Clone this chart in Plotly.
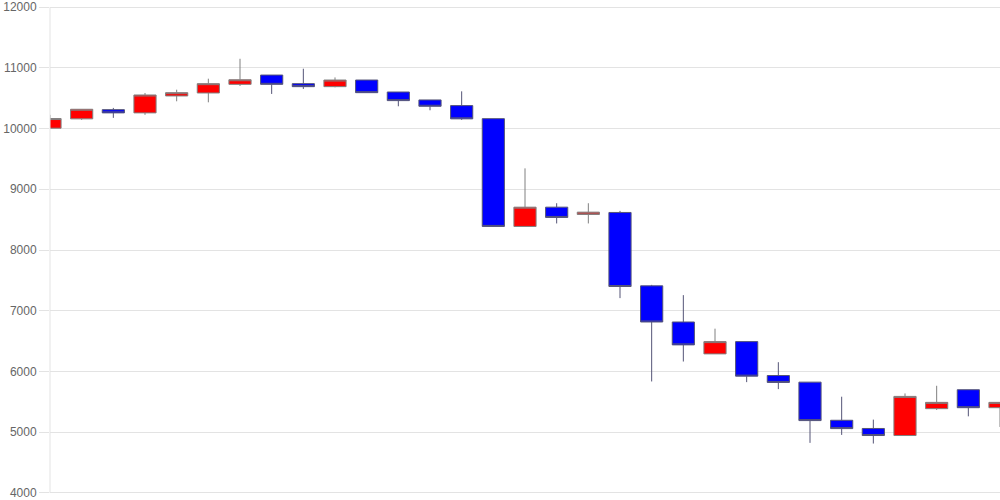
import plotly.graph_objects as go

# daily OHLC (31 sessions)
days = list(range(31))
opens = [10005, 10159, 10310, 10257, 10536, 10585, 10727, 10880, 10738, 10689,
         10798, 10601, 10470, 10377, 10162, 8388, 8705, 8585, 8618, 7410,
         6815, 6290, 6492, 5934, 5825, 5197, 5062, 4946, 5388, 5700, 5404]
highs = [10225, 10320, 10339, 10585, 10639, 10820, 11148, 10880, 10984, 10841,
         10798, 10601, 10470, 10612, 10162, 9344, 8770, 8770, 8644, 7426,
         7257, 6705, 6492, 6153, 5825, 5585, 5208, 5639, 5765, 5700, 5492]
lows = [10000, 10142, 10175, 10225, 10448, 10431, 10700, 10569, 10651, 10678,
        10590, 10366, 10300, 10142, 8385, 8388, 8437, 8437, 7208, 5836,
        6164, 6290, 5825, 5710, 4825, 4956, 4814, 4946, 5366, 5262, 5087]
closes = [10164, 10317, 10257, 10552, 10590, 10738, 10803, 10727, 10689, 10798,
          10590, 10459, 10366, 10159, 8388, 8705, 8536, 8623, 7399, 6815,
          6438, 6492, 5923, 5820, 5192, 5060, 4946, 5590, 5492, 5404, 5492]

y_ticks = [4000, 5000, 6000, 7000, 8000, 9000, 10000, 11000, 12000]

fig = go.Figure(go.Candlestick(
    x=days, open=opens, high=highs, low=lows, close=closes,
    increasing=dict(fillcolor='#ff0000', line=dict(color='#808080', width=1)),
    decreasing=dict(fillcolor='#0000ff', line=dict(color='#555577', width=1)),
    whiskerwidth=0,
))

fig.update_layout(
    width=1000, height=500,
    margin=dict(l=50, r=0, t=2, b=2),
    paper_bgcolor='white', plot_bgcolor='white',
    showlegend=False,
    boxgap=0.3, boxgroupgap=0,
    font=dict(family='Liberation Sans, Arial', size=12, color='#666666'),
)
fig.update_xaxes(range=[0, 30], showticklabels=False, showgrid=False,
                 zeroline=False, rangeslider_visible=False)
# padding so the 4000 / 12000 grid lines are not culled at the edges
fig.update_yaxes(range=[3934, 12066], tickvals=y_ticks, tickformat='d',
                 showgrid=True, gridcolor='#e3e3e3', zeroline=False,
                 showline=False, ticks='outside',
                 ticklen=10, tickcolor='#e3e3e3', ticklabeloverflow='allow')
# left axis line drawn only between 4000 and 12000 like the reference
fig.add_shape(type='line', xref='paper', yref='y', x0=0, x1=0,
              y0=y_ticks[0], y1=y_ticks[-1],
              line=dict(color='#e3e3e3', width=1))

# drop the default 8px body margin so the figure fills the window
fig.write_html("out.html", config={'displayModeBar': False},
               post_script="document.body.style.margin='0';")
